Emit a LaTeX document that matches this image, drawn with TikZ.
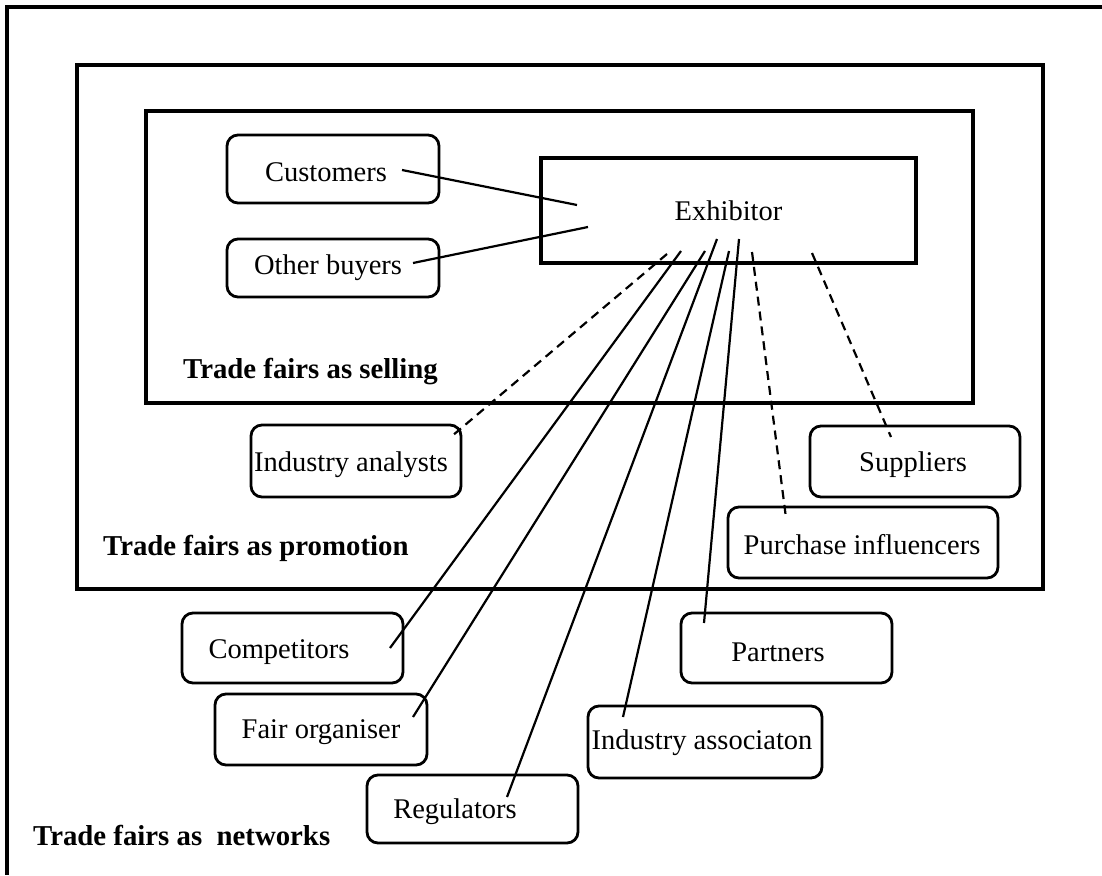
\documentclass[tikz,border=0pt]{standalone}
\usepackage{fontspec}
\setmainfont{Liberation Serif}
\usetikzlibrary{calc}
\begin{document}
\begin{tikzpicture}[x=1pt,y=-1pt,
  frame/.style={draw,line width=3.4pt},
  rbox/.style={draw,line width=2.8pt,rounded corners=11pt,inner sep=0pt},
  lbl/.style={inner sep=0pt,font=\fontsize{28.5}{32}\selectfont},
  zone/.style={inner sep=0pt,anchor=west,font=\fontsize{28.8}{32}\selectfont\bfseries},
  link/.style={line width=2.2pt},
  dlink/.style={line width=2.2pt,dash pattern=on 9pt off 6pt}]
\useasboundingbox (0,0) rectangle (1102,875);

% nested frames
\draw[line width=3.4pt] (1102,7) -- (7,7) -- (7,875);
\node[frame,minimum width=966pt,minimum height=524pt,inner sep=0pt] (promo) at (560,327) {};
\node[frame,minimum width=827pt,minimum height=292pt,inner sep=0pt] (sell) at (559.5,257) {};
\node[frame,minimum width=375pt,minimum height=105pt,inner sep=0pt,font=\fontsize{28.5}{32}\selectfont] (exh) at (728.5,210.5) {Exhibitor};

% zone captions
\node[zone] (zsell) at (183,372) {Trade fairs as selling};
\node[zone] (zpromo) at (103,548) {Trade fairs as promotion};
\node[zone] (znet) at (33,835) {Trade fairs as\ \ networks};

% actor boxes
\node[rbox,minimum width=212pt,minimum height=68pt] (cust) at (333,169) {};
\node[lbl] (cust-t) at (326,172) {Customers};
\node[rbox,minimum width=212pt,minimum height=58pt] (buy) at (333,268) {};
\node[lbl] (buy-t) at (328,268) {Other buyers};
\node[rbox,minimum width=210pt,minimum height=72pt] (ana) at (356,461) {};
\node[lbl] (ana-t) at (351,465) {Industry analysts};
\node[rbox,minimum width=210pt,minimum height=71pt] (sup) at (915,461.5) {};
\node[lbl] (sup-t) at (913,465) {Suppliers};
\node[rbox,minimum width=270pt,minimum height=71pt] (pur) at (863,542.5) {};
\node[lbl] (pur-t) at (862,545) {Purchase influencers};
\node[rbox,minimum width=221pt,minimum height=70pt] (comp) at (292.5,648) {};
\node[lbl] (comp-t) at (279,652) {Competitors};
\node[rbox,minimum width=212pt,minimum height=71pt] (fair) at (321,729.5) {};
\node[lbl] (fair-t) at (321,732) {Fair organiser};
\node[rbox,minimum width=211pt,minimum height=68pt] (reg) at (472.5,809) {};
\node[lbl] (reg-t) at (455,812) {Regulators};
\node[rbox,minimum width=234pt,minimum height=72pt] (ass) at (705,742) {};
\node[lbl] (ass-t) at (702,743) {Industry associaton};
\node[rbox,minimum width=211pt,minimum height=70pt] (par) at (786.5,648) {};
\node[lbl] (par-t) at (778,652) {Partners};

% connector end points inside the boxes
\coordinate (cust-a) at (402,170);
\coordinate (cust-b) at (577,205);
\coordinate (buy-a) at (413,263);
\coordinate (buy-b) at (588,227);
\coordinate (x-ana) at (667,254);
\coordinate (x-comp) at (681,251);
\coordinate (x-fair) at (705,251);
\coordinate (x-reg) at (717,239);
\coordinate (x-ass) at (729,251);
\coordinate (x-par) at (739,239);
\coordinate (x-pur) at (752,252);
\coordinate (x-sup) at (812,253);
\coordinate (ana-e) at (452,436);
\coordinate (comp-e) at (390,648);
\coordinate (fair-e) at (413,717);
\coordinate (reg-e) at (507,797);
\coordinate (ass-e) at (623,717);
\coordinate (par-e) at (704,623);
\coordinate (pur-e) at (786,518);
\coordinate (sup-e) at (891,437);

% connectors
\draw[link] (cust-a) -- (cust-b);
\draw[link] (buy-a) -- (buy-b);
\draw[dlink] (x-ana) -- (ana-e);
\draw[link] (x-comp) -- (comp-e);
\draw[link] (x-fair) -- (fair-e);
\draw[link] (x-reg) -- (reg-e);
\draw[link] (x-ass) -- (ass-e);
\draw[link] (x-par) -- (par-e);
\draw[dlink] (x-pur) -- (pur-e);
\draw[dlink] (x-sup) -- (sup-e);
\end{tikzpicture}
\end{document}
